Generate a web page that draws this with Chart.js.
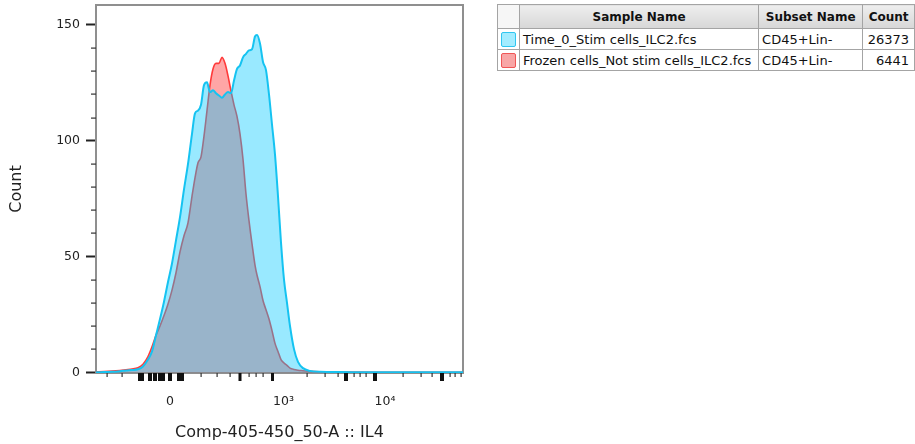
<!DOCTYPE html>
<html>
<head>
<meta charset="utf-8">
<script src="https://cdn.jsdelivr.net/npm/chart.js@4.4.1/dist/chart.umd.min.js"></script>
<style>
    html, body { margin: 0; padding: 0; background: #fff; }
    body { width: 915px; height: 444px; overflow: hidden; position: relative; font-family: "DejaVu Sans", sans-serif; }
    #plot { position: absolute; left: 0; top: 0; width: 480px; height: 444px; }
    table.legend {
        position: absolute; left: 497px; top: 4px;
        border-collapse: collapse; table-layout: fixed;
        font-size: 13px; color: #111;
    }
    table.legend th, table.legend td { border: 1px solid #a4a4a4; padding: 0 3px; white-space: nowrap; overflow: hidden; }
    table.legend th {
        height: 23px; font-size: 12px; font-weight: bold;
        background: linear-gradient(#eeeeee, #d7d7d7);
    }
    table.legend th.blank { background: #f6f6f6; }
    table.legend td { height: 20px; }
    table.legend td.num { text-align: right; padding-right: 5px; }
    .swatch { display: block; width: 15px; height: 15px; border-radius: 2px; margin: 0 auto; box-sizing: border-box; }
</style>
</head>
<body>
<div id="plot"><canvas id="histogram"></canvas></div>
<table class="legend" id="legend">
    <colgroup><col style="width:22px"><col style="width:240px"><col style="width:106px"><col style="width:52px"></colgroup>
    <thead><tr><th class="blank"></th><th>Sample Name</th><th>Subset Name</th><th>Count</th></tr></thead>
    <tbody></tbody>
</table>
<script>
// samples shown in the overlay (legend table order)
const sampleNames = ['Time_0_Stim cells_ILC2.fcs', 'Frozen cells_Not stim cells_ILC2.fcs'];
const subsetNames = ['CD45+Lin-', 'CD45+Lin-'];
const eventCounts = [26373, 6441];

// display channel along the biexponential IL4 axis
const channels = [0, 8, 16, 24, 30, 36, 42, 47, 52, 56, 60, 64, 68, 72, 76, 80, 84, 88, 92, 96,
    99, 102, 105, 108, 111, 114, 117, 120, 123, 126, 129, 132, 135, 138, 141, 144, 147, 150, 153, 156,
    159, 161, 164, 167, 170, 173, 176, 179, 182, 185, 188, 191, 194, 198, 202, 207, 214, 224, 244, 284, 324, 367];

const stimCounts = [0, 0.1, 0.2, 0.5, 0.8, 1.0, 1.3, 2.5, 5.5, 9, 16, 23, 30.5, 39, 47, 57, 67, 79, 90, 103,
    111.8, 113, 115.5, 124, 125.2, 121, 121.8, 120.5, 119.5, 118.6, 120, 121, 120.5, 126, 131, 132.5, 136, 137.5, 139, 139.5,
    145, 145.7, 142, 134, 130.5, 120, 107, 94, 76, 56, 40, 30, 20, 10, 4.5, 1.8, 0.6, 0.2, 0.1, 0, 0, 0];

const frozenCounts = [0.2, 0.3, 0.5, 0.8, 1.1, 1.4, 2.0, 3.5, 6.8, 11, 16, 20, 24.5, 29.5, 35.5, 43, 52, 59, 64.5, 76,
    84, 90.5, 93, 102, 113, 124, 131, 133.4, 133.4, 136, 133.4, 128, 121.5, 115.5, 110.5, 103, 92, 77, 65.5, 55.5,
    46.3, 42, 37, 31, 27, 23, 18, 12.5, 9, 5.5, 4, 3, 1.8, 1.2, 0.9, 0.7, 0.4, 0.2, 0.1, 0, 0, 0];

// axis ticks
const xTickLabels = ['0', '10\u00b3', '10\u2074'];
const xLabelChannels = [74, 187.5, 289];
const xMajorTicks = [45, 54, 59, 65.5, 74, 84.5, 144, 176.5, 250, 279, 346];
const xMinorTicks = [11, 26, 105, 121, 134, 153, 160, 167, 211, 229, 242, 258, 264, 270, 307, 325, 336, 354, 359, 365];
const yMajorTicks = [0, 50, 100, 150];
const yMinorTicks = [10, 20, 30, 40, 60, 70, 80, 90, 110, 120, 130, 140];

const xMajorWidths = [6, 4, 4, 7, 4, 7, 3, 3, 4, 4, 4];
const swatchStyles = [
    { fill: '#a3ecff', border: '#2fc6f0' },
    { fill: '#f8a6a6', border: '#f05656' }
];

// legend table
const tbody = document.querySelector('#legend tbody');
sampleNames.forEach((name, i) => {
    const tr = document.createElement('tr');
    tr.innerHTML =
        `<td><span class="swatch" style="background:${swatchStyles[i].fill};border:1.5px solid ${swatchStyles[i].border}"></span></td>` +
        `<td>${name}</td><td>${subsetNames[i]}</td><td class="num">${eventCounts[i]}</td>`;
    tbody.appendChild(tr);
});

// frame around the plot and the hand-placed tick marks
const axisDecor = {
    id: 'axisDecor',
    beforeDatasetsDraw(chart) {
        const { ctx, chartArea: a } = chart;
        ctx.save();
        ctx.strokeStyle = '#8f8f8f';
        ctx.lineWidth = 2;
        ctx.strokeRect(a.left, a.top, a.right - a.left, a.bottom - a.top);
        ctx.restore();
    },
    afterDraw(chart) {
        const { ctx, chartArea: a, scales } = chart;
        ctx.save();
        ctx.fillStyle = '#111';
        xMajorTicks.forEach((v, i) => {
            const px = scales.x.getPixelForValue(v);
            ctx.fillRect(px - xMajorWidths[i] / 2, a.bottom, xMajorWidths[i], 8);
        });
        ctx.fillStyle = '#333';
        xMinorTicks.forEach(v => {
            const px = Math.round(scales.x.getPixelForValue(v));
            ctx.fillRect(px - 0.5, a.bottom, 1.2, 4);
        });
        yMinorTicks.forEach(v => {
            const py = Math.round(scales.y.getPixelForValue(v));
            ctx.fillRect(a.left - 5, py - 0.5, 5, 1.2);
        });
        ctx.restore();
    }
};

new Chart(document.getElementById('histogram'), {
    type: 'line',
    data: {
        labels: channels,
        datasets: [{
            label: sampleNames[0],
            data: stimCounts,
            borderColor: '#15c3f1',
            backgroundColor: 'rgba(0, 200, 255, 0.4)',
            borderWidth: 2,
            fill: 'origin',
            pointRadius: 0,
            cubicInterpolationMode: 'monotone'
        }, {
            label: sampleNames[1],
            data: frozenCounts,
            borderColor: '#ff3a3a',
            backgroundColor: 'rgba(255, 0, 0, 0.35)',
            borderWidth: 1.6,
            fill: 'origin',
            pointRadius: 0,
            cubicInterpolationMode: 'monotone'
        }]
    },
    options: {
        responsive: true,
        maintainAspectRatio: false,
        animation: false,
        layout: { padding: { top: 5, right: 17, left: 0, bottom: 0 } },
        plugins: {
            legend: { display: false },
            tooltip: { enabled: false }
        },
        scales: {
            x: {
                type: 'linear',
                min: 0,
                max: 367,
                grid: { display: false, drawTicks: false },
                border: { display: false },
                afterBuildTicks: scale => { scale.ticks = xLabelChannels.map(v => ({ value: v })); },
                afterFit: scale => { scale.height = 71; scale.paddingLeft = 0; scale.paddingRight = 0; },
                ticks: {
                    autoSkip: false,
                    maxRotation: 0,
                    padding: 21,
                    color: '#222',
                    font: { family: 'DejaVu Sans', size: 12.5 },
                    callback: (value, index) => xTickLabels[index]
                },
                title: {
                    display: true,
                    text: 'Comp-405-450_50-A :: IL4',
                    color: '#222',
                    font: { family: 'DejaVu Sans', size: 16 },
                    padding: { top: 0, bottom: 2 }
                }
            },
            y: {
                min: -0.3,
                max: 158.6,
                grid: { drawOnChartArea: false, drawTicks: true, tickLength: 10, tickWidth: 2, tickColor: '#222' },
                border: { display: false },
                afterBuildTicks: scale => { scale.ticks = yMajorTicks.map(v => ({ value: v })); },
                afterFit: scale => { scale.width = 96; scale.paddingTop = 0; scale.paddingBottom = 0; },
                ticks: {
                    padding: 6,
                    color: '#222',
                    font: { family: 'DejaVu Sans', size: 12.5 }
                },
                title: {
                    display: true,
                    text: 'Count',
                    color: '#222',
                    font: { family: 'DejaVu Sans', size: 16 },
                    padding: { top: 7, bottom: 0 }
                }
            }
        }
    },
    plugins: [axisDecor]
});
</script>
</body>
</html>
